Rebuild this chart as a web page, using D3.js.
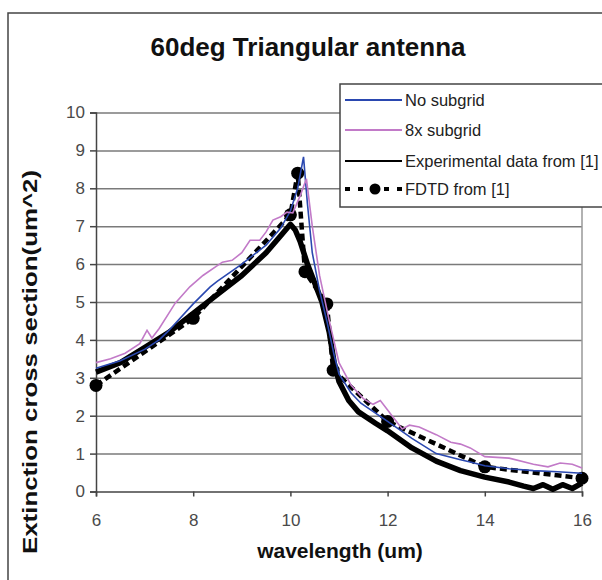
<!DOCTYPE html>
<html><head><meta charset="utf-8">
<script src="https://cdn.jsdelivr.net/npm/d3@7"></script>
<style>body{margin:0;background:#fff}svg{display:block}</style>
</head><body>
<svg id="c" width="602" height="580"></svg>
<script>
const title = "60deg Triangular antenna";
const xLabel = "wavelength (um)";
const yLabel = "Extinction cross section(um^2)";
const xTicks = [6, 8, 10, 12, 14, 16];
const yTicks = [0,1,2,3,4,5,6,7,8,9,10];
const seriesNames = ["No subgrid", "8x subgrid", "Experimental data from [1]", "FDTD from [1]"];

// No subgrid (blue)
const noSubX = [6.0,6.5,7.0,7.3,7.5,8.0,8.35,8.5,9.0,9.5,9.8,10.0,10.15,10.27,10.35,10.45,10.6,10.75,10.9,11.0,11.25,11.45,12.0,12.26,12.5,13.0,13.5,13.7,14.0,14.5,15.0,15.5,16.0];
const noSubY = [3.25,3.45,3.75,4.0,4.25,4.95,5.4,5.55,6.0,6.5,6.95,7.4,8.0,8.83,7.6,6.3,5.3,4.5,3.6,3.1,2.6,2.33,1.85,1.62,1.4,1.0,0.84,0.78,0.68,0.6,0.55,0.52,0.48];

// 8x subgrid (purple)
const subX = [6.0,6.3,6.6,6.9,7.05,7.15,7.3,7.63,7.93,8.2,8.6,8.8,9.0,9.17,9.37,9.5,9.64,9.8,9.93,10.05,10.2,10.33,10.45,10.6,10.8,11.0,11.25,11.5,11.7,11.85,12.0,12.3,12.45,12.65,13.0,13.3,13.5,13.7,14.0,14.5,15.0,15.3,15.55,15.8,16.0];
const subY = [3.4,3.5,3.65,3.9,4.25,4.05,4.3,4.97,5.4,5.7,6.05,6.1,6.3,6.63,6.63,6.85,7.16,7.25,7.37,7.35,7.8,8.25,7.0,5.7,4.5,3.4,2.8,2.45,2.3,2.4,2.15,1.65,1.75,1.7,1.5,1.3,1.25,1.15,0.92,0.88,0.72,0.65,0.75,0.72,0.62];

// Experimental data from [1] (thick black)
const expX = [6.0,6.5,7.0,7.5,8.0,8.5,9.0,9.5,9.8,10.0,10.1,10.2,10.35,10.5,10.65,10.8,10.9,11.0,11.2,11.4,11.75,12.0,12.5,13.0,13.5,14.0,14.5,14.8,15.0,15.2,15.4,15.6,15.8,16.0];
const expY = [3.15,3.4,3.8,4.2,4.7,5.2,5.7,6.3,6.75,7.05,6.9,6.6,6.0,5.5,5.0,4.2,3.4,2.9,2.4,2.1,1.8,1.6,1.15,0.8,0.55,0.38,0.25,0.14,0.08,0.18,0.06,0.18,0.08,0.22];

// FDTD from [1] (dashed with markers)
const fdtdX = [6.0,8.0,10.0,10.15,10.3,10.75,10.88,12.0,14.0,16.0];
const fdtdY = [2.8,4.57,7.3,8.4,5.8,4.95,3.2,1.85,0.65,0.35];

const svg = d3.select("#c");
const font = "'Liberation Sans', Arial, sans-serif";

// outer frame
svg.append("rect").attr("x",8).attr("y",13).attr("width",640).attr("height",620)
  .attr("fill","#fff").attr("stroke","#444").attr("stroke-width",1.5);

const x = d3.scaleLinear().domain([6,16]).range([96,582]);
const y = d3.scaleLinear().domain([0,10]).range([491.5,112.5]);

// gridlines
svg.append("g").attr("transform","translate(96,0)")
  .call(d3.axisLeft(y).tickValues(yTicks.slice(1)).tickSize(-(582-96)).tickFormat(""))
  .call(g=>g.select(".domain").remove())
  .call(g=>g.selectAll("line").attr("stroke","#7a7a7a").attr("stroke-width",1.5));

// right border
svg.append("line").attr("x1",582).attr("x2",582).attr("y1",112.5).attr("y2",491.5)
  .attr("stroke","#999").attr("stroke-width",1.5);

// y axis
const ya = svg.append("g").attr("transform","translate(96,0)")
  .call(d3.axisLeft(y).tickValues(yTicks).tickSize(6).tickPadding(5).tickFormat(d3.format("d")));
ya.select(".domain").attr("stroke","#444").attr("stroke-width",1.5);
ya.selectAll("line").attr("stroke","#444").attr("stroke-width",1.5);
ya.selectAll("text").attr("font-family",font).attr("font-size",17).attr("fill","#4a4a4a");

// x axis
const xa = svg.append("g").attr("transform","translate(0,491.5)")
  .call(d3.axisBottom(x).tickValues(xTicks).tickSize(5).tickPadding(17).tickFormat(d3.format("d")));
xa.select(".domain").attr("stroke","#444").attr("stroke-width",1.5);
xa.selectAll("line").attr("stroke","#444").attr("stroke-width",1.5);
xa.selectAll("text").attr("font-family",font).attr("font-size",17).attr("fill","#4a4a4a");

const line = d3.line().x(d=>x(d[0])).y(d=>y(d[1]));
const zip = (a,b)=>a.map((v,i)=>[v,b[i]]);

// experimental thick
svg.append("path").attr("d",line(zip(expX,expY))).attr("fill","none")
  .attr("stroke","#000").attr("stroke-width",5.5).attr("stroke-linejoin","round");
// FDTD dashed
svg.append("path").attr("d",line(zip(fdtdX,fdtdY))).attr("fill","none")
  .attr("stroke","#000").attr("stroke-width",4.5).attr("stroke-dasharray","7,4");
svg.append("g").selectAll("circle").data(zip(fdtdX,fdtdY)).join("circle")
  .attr("cx",d=>x(d[0])).attr("cy",d=>y(d[1])).attr("r",6.5).attr("fill","#000");
// blue
svg.append("path").attr("d",line(zip(noSubX,noSubY))).attr("fill","none")
  .attr("stroke","#2a48b0").attr("stroke-width",1.6);
// purple
svg.append("path").attr("d",line(zip(subX,subY))).attr("fill","none")
  .attr("stroke","#c27ac8").attr("stroke-width",1.6);

// title
svg.append("text").attr("x",308).attr("y",56).attr("text-anchor","middle")
  .attr("font-family",font).attr("font-weight","bold").attr("font-size",26).attr("fill","#111").text(title);
// axis labels
svg.append("text").attr("x",340).attr("y",558).attr("text-anchor","middle")
  .attr("font-family",font).attr("font-weight","bold").attr("font-size",21).attr("fill","#111").text(xLabel);
svg.append("text").attr("transform","translate(37,362) rotate(-90)").attr("text-anchor","middle")
  .attr("font-family",font).attr("font-weight","bold").attr("font-size",21)
  .attr("textLength",384).attr("lengthAdjust","spacingAndGlyphs").attr("fill","#111").text(yLabel);

// legend
const lg = svg.append("g");
lg.append("rect").attr("x",340).attr("y",84).attr("width",300).attr("height",123)
  .attr("fill","#fff").attr("stroke","#444").attr("stroke-width",1.5);
const ly = [100,130,161,189];
const styles = [
  {c:"#2a48b0",w:2,dash:null,dot:false},
  {c:"#c27ac8",w:2,dash:null,dot:false},
  {c:"#000",w:2,dash:null,dot:false},
  {c:"#000",w:4,dash:"5,8",dot:true}
];
seriesNames.forEach((n,i)=>{
  const s = styles[i];
  const l = lg.append("line").attr("x1",345).attr("x2",402).attr("y1",ly[i]).attr("y2",ly[i])
    .attr("stroke",s.c).attr("stroke-width",s.w);
  if(s.dash) l.attr("stroke-dasharray",s.dash);
  if(s.dot) lg.append("circle").attr("cx",375).attr("cy",ly[i]).attr("r",5.5).attr("fill","#000");
  lg.append("text").attr("x",405).attr("y",ly[i]).attr("dy","0.35em")
    .attr("font-family",font).attr("font-size",16.5).attr("fill","#222").text(n);
});
</script>
</body></html>
